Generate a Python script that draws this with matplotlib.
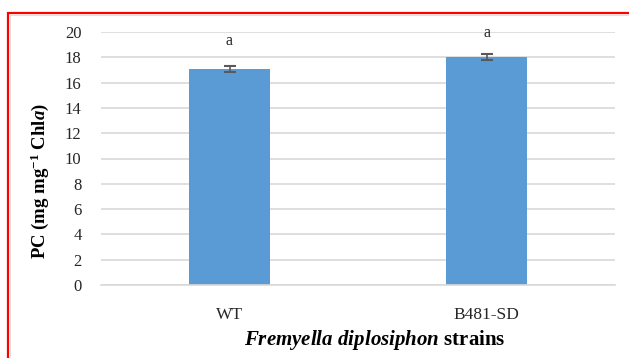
import matplotlib
matplotlib.use("Agg")
import matplotlib.pyplot as plt
from matplotlib.patches import Rectangle

# PC content of the two strains
strains = ["WT", "B481-SD"]
pc_mean = [17.1, 18.0]
pc_err = [0.25, 0.25]
letters = ["a", "a"]
letter_y = [19.3, 19.95]

plt.rcParams["font.family"] = "Liberation Serif"
plt.rcParams["mathtext.fontset"] = "custom"
plt.rcParams["mathtext.rm"] = "Liberation Serif:bold"
plt.rcParams["mathtext.it"] = "Liberation Serif:italic:bold"
plt.rcParams["mathtext.bf"] = "Liberation Serif:bold"

W, H = 629, 358
fig = plt.figure(figsize=(W / 100, H / 100), dpi=100)
ax = fig.add_axes([101 / W, 1 - 285 / H, (615 - 101) / W, (285 - 32) / H])

x = list(range(len(strains)))
ax.bar(x, pc_mean, width=0.315, color="#5B9BD5", zorder=2)
ax.errorbar(x, pc_mean, yerr=pc_err, fmt="none", ecolor="#595959",
            elinewidth=1.2, capsize=4, capthick=1.5, zorder=3)
for xi, t, ty in zip(x, letters, letter_y):
    ax.text(xi, ty, t, ha="center", va="center", fontsize=11.5, color="#262626")

ax.set_xlim(-0.5, len(strains) - 0.5)
ax.set_ylim(0, 20)
ax.set_yticks(range(0, 21, 2))
ax.set_xticks(x)
ax.set_xticklabels(strains, fontsize=12.5)
ax.tick_params(axis="y", length=0, pad=14, labelsize=12, labelcolor="#262626")
ax.tick_params(axis="x", length=0, pad=16, labelcolor="#262626")
ax.yaxis.grid(True, color="#D9D9D9", linewidth=1.2, zorder=0)
ax.set_axisbelow(True)
for s in ["top", "right", "left"]:
    ax.spines[s].set_visible(False)
ax.spines["bottom"].set_color("#D9D9D9")
ax.spines["bottom"].set_linewidth(1.2)

fig.text(40 / W, 1 - 181 / H, r"PC (mg mg$^{-1}$ Chl$a$)", rotation=90,
         ha="center", va="center", fontsize=13.5, fontweight="bold")
fig.text(375 / W, 1 - 340 / H, r"$Fremyella\ diplosiphon$ strains",
         ha="center", va="center", fontsize=15, fontweight="bold")

# red frame around the panel
fig.patches.append(Rectangle((7.5 / W, -0.2), 1.2, 1 - 12.5 / H + 0.2,
                             transform=fig.transFigure, fill=False,
                             edgecolor="#FF0000", linewidth=1.6))
fig.patches.append(Rectangle((10 / W, -0.2), 1.2, 1 - 15 / H + 0.2,
                             transform=fig.transFigure, fill=False,
                             edgecolor="#E0E0E0", linewidth=0.8))

fig.savefig("out.png", dpi=100)
